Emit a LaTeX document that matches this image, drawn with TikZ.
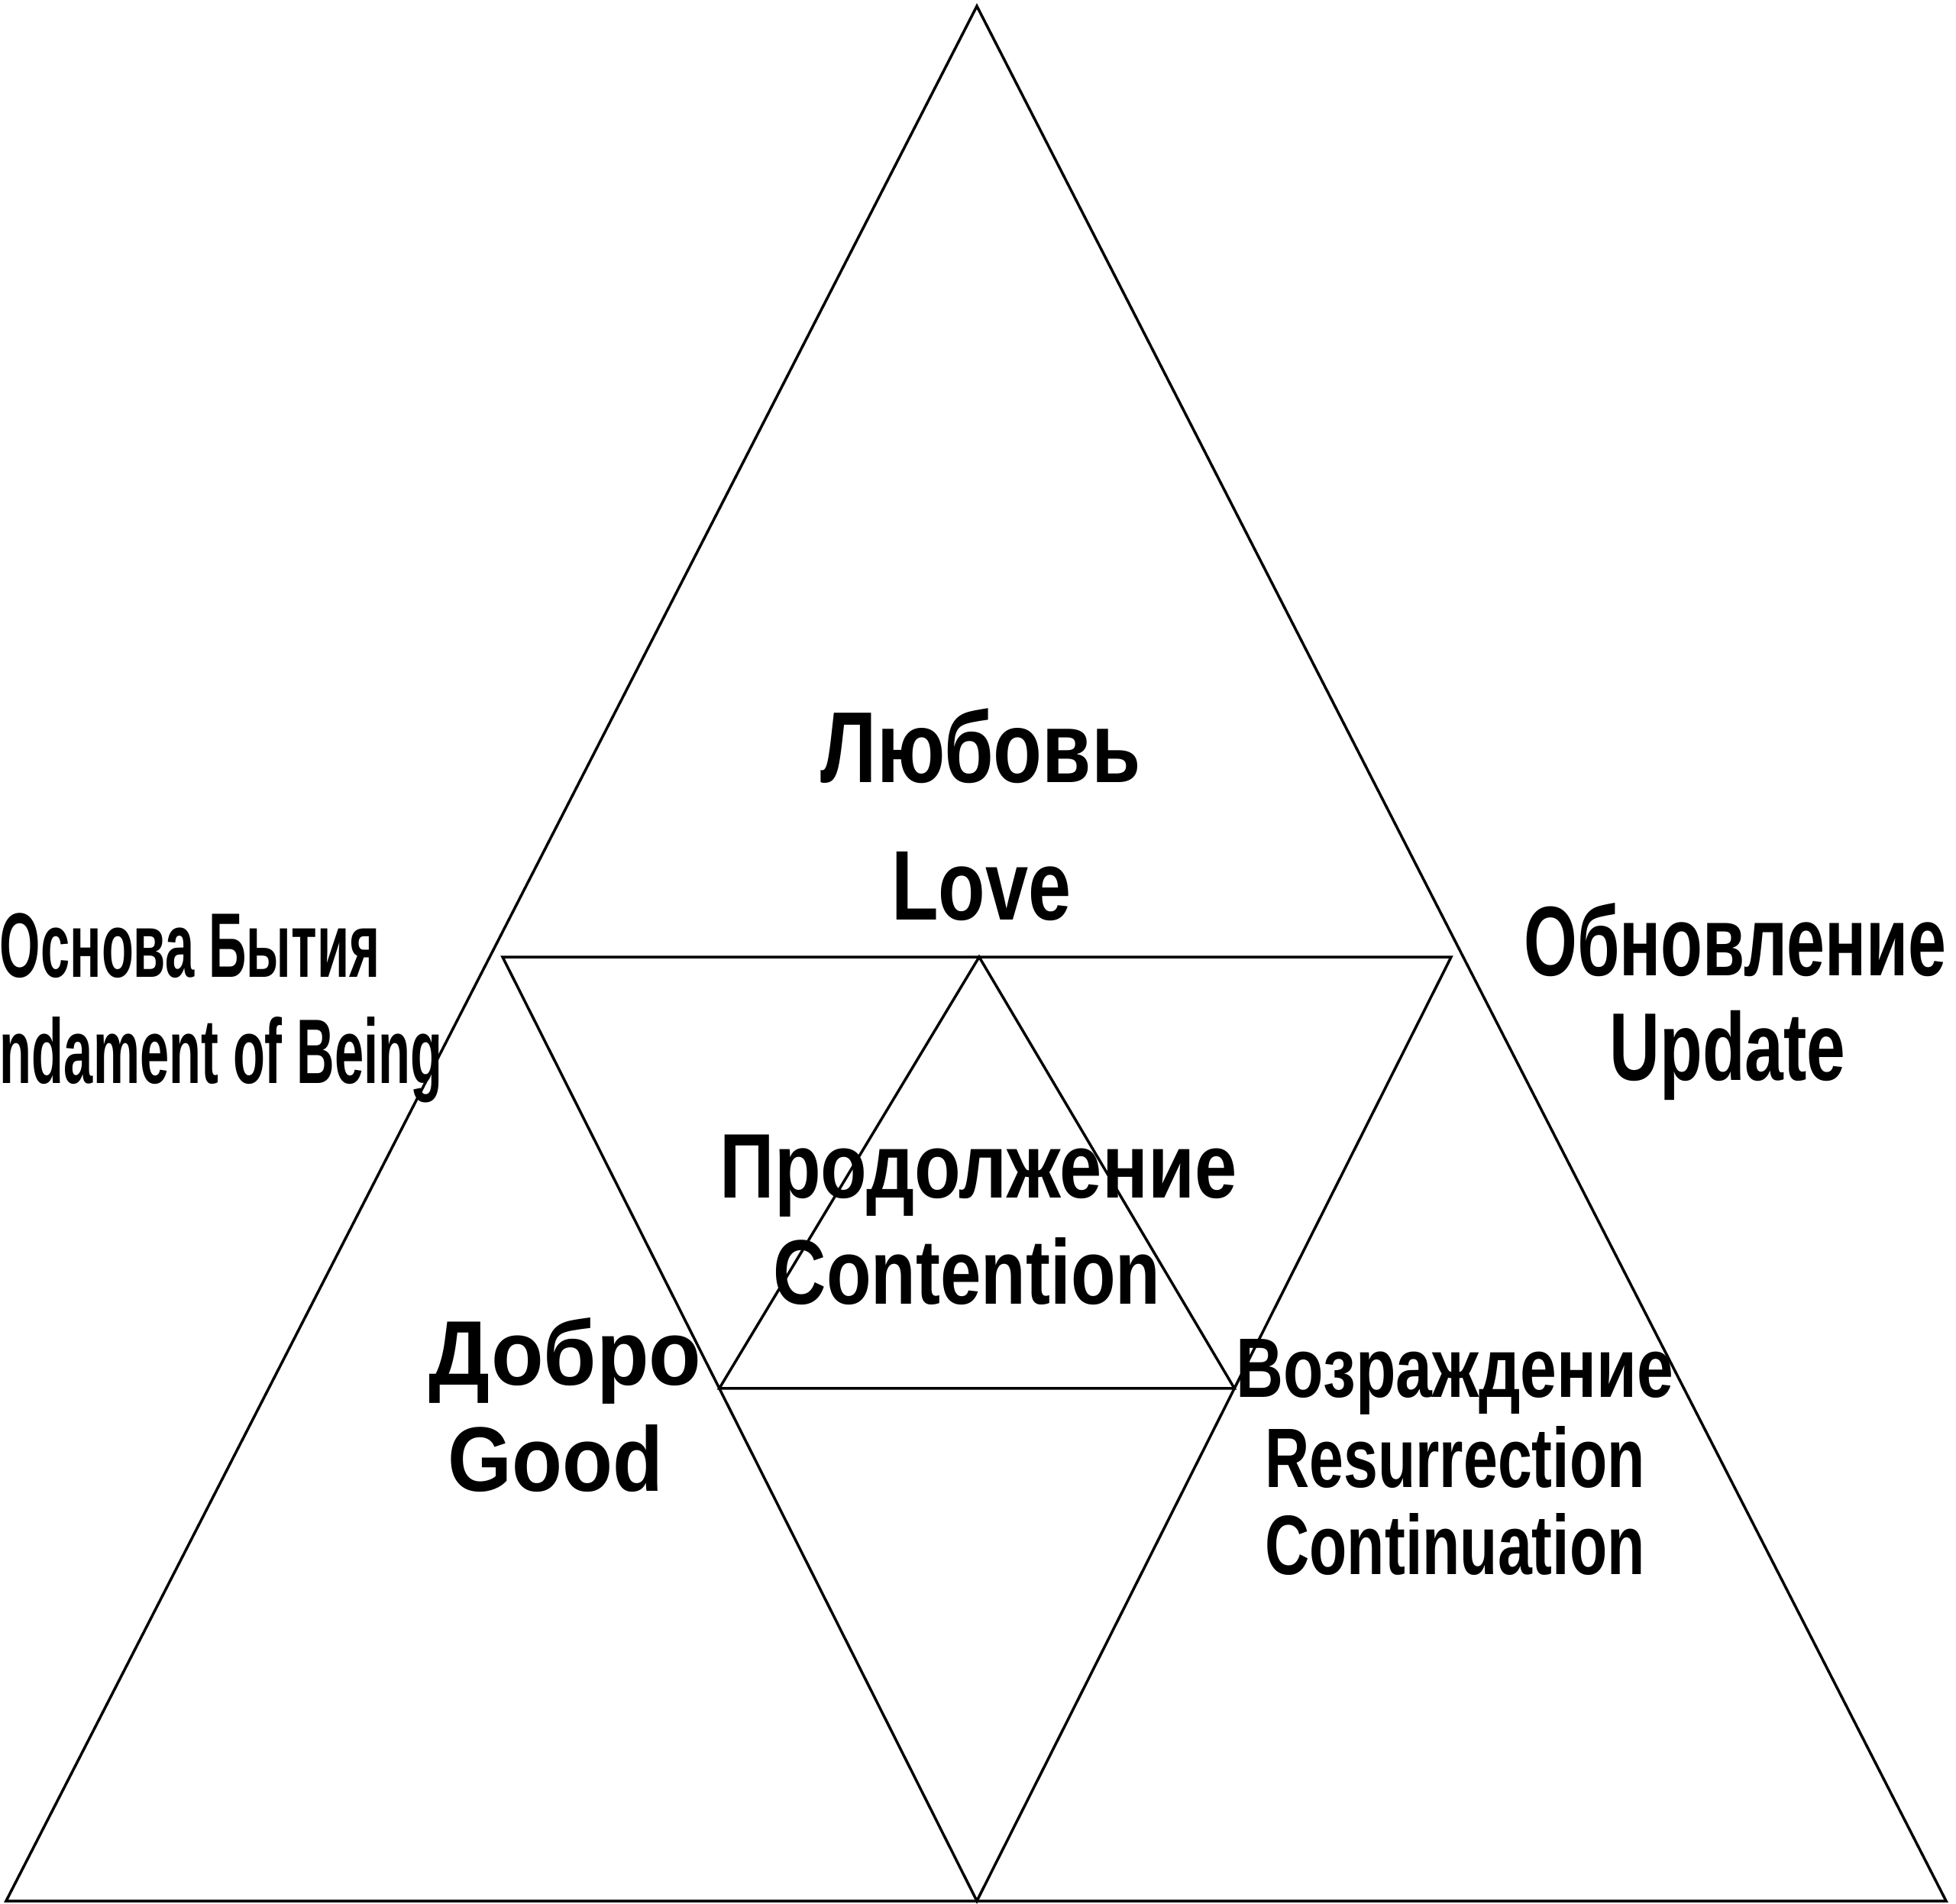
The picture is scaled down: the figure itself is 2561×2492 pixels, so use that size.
\documentclass[tikz,border=0pt]{standalone}
\usepackage{fontspec}
\newfontfamily\condf[FakeStretch=0.8]{Liberation Sans}
\newfontfamily\semif[FakeStretch=0.9]{Liberation Sans}
\usetikzlibrary{calc}
\newcommand{\hsc}[3]{\scalebox{#1}[#2]{#3}}
\tikzset{
  edge/.style={draw=black, line width=3.5pt, line join=miter},
  lbl/.style={inner sep=0pt, outer sep=0pt, font=\condf\bfseries\fontsize{120}{120}\selectfont, text=black, anchor=base},
  lblw/.style={inner sep=0pt, outer sep=0pt, font=\semif\bfseries\fontsize{120}{120}\selectfont, text=black, anchor=base}
}
\begin{document}
\begin{tikzpicture}[x=1pt,y=-1pt]
\useasboundingbox[fill=white] (0,0) rectangle (2561,2492);
% vertices
\coordinate (A)  at (1279,8);
\coordinate (BL) at (8,2489);
\coordinate (BR) at (2548,2489);
\coordinate (BM) at (1279,2489);
\coordinate (ML) at (658,1253);
\coordinate (MR) at (1900,1253);
\coordinate (IA) at (1282,1253);
\coordinate (IL) at ($(ML)!0.457!(BM)$);
\coordinate (IR) at ($(MR)!0.457!(BM)$);
% outer triangle
\draw[edge] (A) -- (BL) -- (BR) -- cycle;
% inverted middle triangle
\draw[edge] (ML) -- (MR) -- (BM) -- cycle;
% inner upright triangle
\draw[edge] (IA) -- (IL) -- (IR) -- cycle;
% labels
\node[lbl] (lov1) at (1284,1024) {\hsc{1.09}{1.1}{Любовь}};
\node[lbl] (lov2) at (1285,1204) {\hsc{1.05}{1.08}{Love}};
\node[lbl, anchor=base west] (osn1) at (0,1279) {\hsc{0.715}{1.0}{Основа Бытия}};
\node[lbl, anchor=base west] (osn2) at (0,1418) {\hsc{0.715}{1.0}{ndament of Being}};
\node[lbl] (obn1) at (2272,1277) {\hsc{0.935}{1.08}{Обновление}};
\node[lbl] (obn2) at (2262,1414) {\hsc{0.95}{1.05}{Update}};
\node[lbl] (pro1) at (1281,1568) {\hsc{1.035}{1.0}{Продолжение}};
\node[lbl] (pro2) at (1266,1707) {Contention};
\node[lblw] (dob1) at (740,1813) {\hsc{1.04}{1.0}{Добро}};
\node[lblw] (dob2) at (727,1952) {Good};
\node[lbl] (voz1) at (1905,1829) {\hsc{0.895}{0.92}{Возраждение}};
\node[lbl] (voz2) at (1905,1947) {\hsc{0.84}{0.92}{Resurrection}};
\node[lbl] (voz3) at (1905,2061) {\hsc{0.84}{0.92}{Continuation}};
\end{tikzpicture}
\end{document}
